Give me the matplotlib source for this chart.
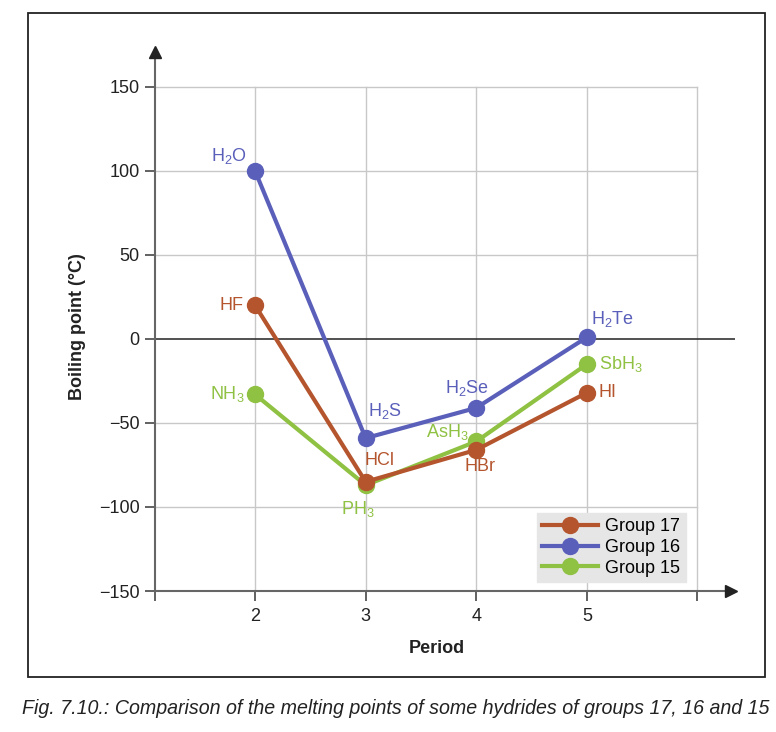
import matplotlib
matplotlib.use("Agg")
import matplotlib.pyplot as plt
from matplotlib.patches import Rectangle

periods = [2, 3, 4, 5]
group17 = [20, -85, -66, -32]
group16 = [100, -59, -41, 1]
group15 = [-33, -87, -61, -15]
names17 = ["HF", "HCl", "HBr", "HI"]
names16 = ["H$_2$O", "H$_2$S", "H$_2$Se", "H$_2$Te"]
names15 = ["NH$_3$", "PH$_3$", "AsH$_3$", "SbH$_3$"]
yticks = [-150, -100, -50, 0, 50, 100, 150]
xticks = [2, 3, 4, 5]

c17 = "#b4552e"
c16 = "#5a5fba"
c15 = "#8fc143"

plt.rcParams['font.family'] = ['Liberation Sans', 'DejaVu Sans']
plt.rcParams['mathtext.fontset'] = 'custom'
plt.rcParams['mathtext.rm'] = 'Liberation Sans'
plt.rcParams['mathtext.it'] = 'Liberation Sans:italic'
plt.rcParams['mathtext.bf'] = 'Liberation Sans:bold'

fig = plt.figure(figsize=(7.76, 7.32), dpi=100)
W, H = 776, 732

# outer frame
fig.patches.append(Rectangle((28 / W, 1 - 677 / H), (765 - 28) / W, (677 - 13) / H,
                             transform=fig.transFigure, fill=False, edgecolor="#222222", lw=1.3))

ax = fig.add_axes([155 / W, 1 - 591 / H, (735 - 155) / W, (591 - 45) / H])
ax.set_xlim(1.095, 6.34)
ax.set_ylim(-150, 175)
for s in ax.spines.values():
    s.set_visible(False)

# grid
for x in [2, 3, 4, 5, 6]:
    ax.plot([x, x], [-150, 150], color="#c8c8c8", lw=1.0, zorder=0)
for y in [-100, -50, 50, 100, 150]:
    ax.plot([1.095, 6], [y, y], color="#c8c8c8", lw=1.0, zorder=0)
ax.plot([1.095, 6.34], [0, 0], color="#333333", lw=1.2, zorder=1)

# axes with arrows
ax.plot([1.095, 1.095], [-150, 168], color="#666666", lw=1.5, clip_on=False, zorder=2)
ax.plot([1.095, 6.25], [-150, -150], color="#666666", lw=1.5, clip_on=False, zorder=2)
ax.plot([1.095], [171], marker="^", color="#222222", markersize=9, clip_on=False)
ax.plot([6.3], [-150], marker=">", color="#222222", markersize=9, clip_on=False)

ax.set_xticks(xticks + [1.095, 6])
ax.set_xticklabels([str(x) for x in xticks] + ["", ""])
ax.set_yticks(yticks)
ax.set_yticklabels([str(y).replace("-", "\u2212") for y in yticks])
ax.tick_params(axis="both", colors="#555555", labelcolor="#222222", labelsize=13,
               length=7, width=1.3, direction="out")
ax.tick_params(axis="x", pad=5)
ax.tick_params(axis="y", pad=4)

ax.set_xlabel("Period", fontsize=13, fontweight="bold", color="#222222")
ax.set_ylabel("Boiling point (°C)", fontsize=13, fontweight="bold", color="#222222")
ax.xaxis.set_label_coords(0.486, -0.09)
ax.yaxis.set_label_coords(-0.133, 0.4835)
ax.yaxis.label.set_va("center")

lw = 3.0
ms = 11.5
l17, = ax.plot(periods, group17, color=c17, lw=lw, marker="o", ms=ms, label="Group 17", zorder=5)
l16, = ax.plot(periods, group16, color=c16, lw=lw, marker="o", ms=ms, label="Group 16", zorder=4)
l15, = ax.plot(periods, group15, color=c15, lw=lw, marker="o", ms=ms, label="Group 15", zorder=3)

fs = 13
# labels: (name, x, y, dx(px), dy(px), ha, va)
lab = [
    (names16[0], periods[0], group16[0], -8, 15, "right", "center", c16),
    (names16[1], periods[1], group16[1], 2, 27, "left", "center", c16),
    (names16[2], periods[2], group16[2], -9, 20, "center", "center", c16),
    (names16[3], periods[3], group16[3], 4, 18, "left", "center", c16),
    (names17[0], periods[0], group17[0], -12, 0, "right", "center", c17),
    (names17[1], periods[1], group17[1], 14, 21, "center", "center", c17),
    (names17[2], periods[2], group17[2], 4, -17, "center", "center", c17),
    (names17[3], periods[3], group17[3], 12, 0, "left", "center", c17),
    (names15[0], periods[0], group15[0], -10, 0, "right", "center", c15),
    (names15[1], periods[1], group15[1], -8, -24, "center", "center", c15),
    (names15[2], periods[2], group15[2], -8, 9, "right", "center", c15),
    (names15[3], periods[3], group15[3], 12, 0, "left", "center", c15),
]
for name, x, y, dx, dy, ha, va, c in lab:
    ax.annotate(name, (x, y), xytext=(dx, dy), textcoords="offset pixels",
                ha=ha, va=va, color=c, fontsize=fs, zorder=6)

leg = ax.legend(handles=[l17, l16, l15], loc="lower right", bbox_to_anchor=(0.9155, 0.0165),
                fontsize=13, frameon=True, fancybox=False, handlelength=3.1,
                handletextpad=0.4, borderpad=0.3, labelspacing=0.2, borderaxespad=0)
leg.get_frame().set_facecolor("#e6e6e6")
leg.get_frame().set_edgecolor("#e6e6e6")
leg.get_frame().set_alpha(1)

fig.text(22 / W, 1 - 708 / H,
         "Fig. 7.10.: Comparison of the melting points of some hydrides of groups 17, 16 and 15",
         fontsize=14.1, style="italic", color="#222222", ha="left", va="center")

fig.savefig("out.png", dpi=100)
